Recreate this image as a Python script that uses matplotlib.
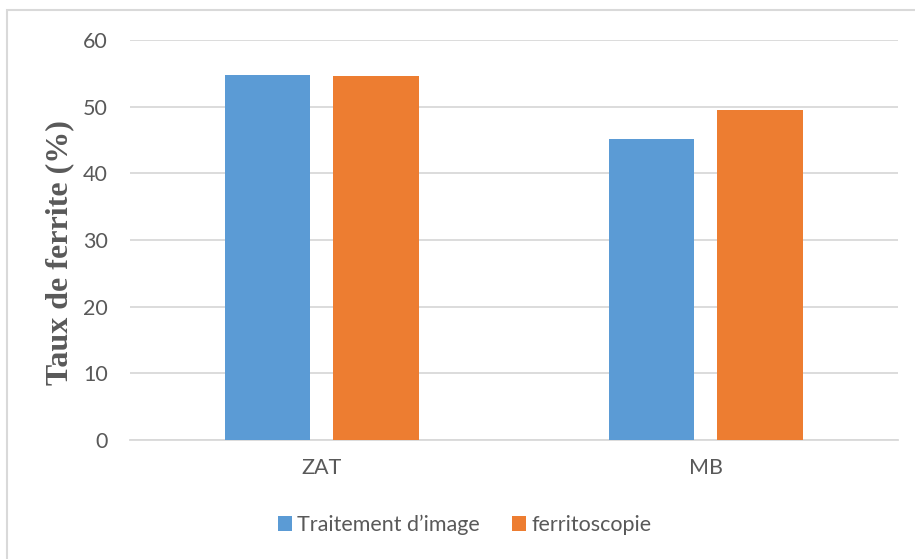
import numpy as np
import matplotlib
matplotlib.use("Agg")
import matplotlib.pyplot as plt
from matplotlib.patches import Rectangle

categories = ["ZAT", "MB"]
series_names = ["Traitement d\u2019image", "ferritoscopie"]
traitement = [54.75, 45.1]
ferritoscopie = [54.6, 49.55]
yticks = [0, 10, 20, 30, 40, 50, 60]

blue = "#5B9BD5"
orange = "#ED7D31"
grey_text = "#595959"

fig = plt.figure(figsize=(9.15, 5.59), dpi=100)
ax = fig.add_axes([0.142, 0.2129, 0.839, 0.7155])

x = np.arange(len(categories))
w = 0.223
off = 0.1416
ax.bar(x - off, traitement, w, color=blue, label=series_names[0], zorder=3)
ax.bar(x + off, ferritoscopie, w, color=orange, label=series_names[1], zorder=3)

ax.set_xlim(-0.5, 1.5)
ax.set_ylim(0, 60)
ax.set_yticks(yticks)
ax.set_xticks(x)
ax.set_xticklabels(categories)
ax.yaxis.grid(True, color="#d9d9d9", linewidth=1.3, zorder=0)
ax.set_axisbelow(True)
for s in ["top", "right", "left"]:
    ax.spines[s].set_visible(False)
ax.spines["bottom"].set_color("#d9d9d9")
ax.spines["bottom"].set_linewidth(1.3)
ax.tick_params(axis="both", length=0, labelsize=15.5, labelcolor=grey_text)
ax.tick_params(axis="x", pad=13)
ax.tick_params(axis="y", pad=16)
for lab in ax.get_xticklabels() + ax.get_yticklabels():
    lab.set_family("Lato")

ax.set_ylabel("Taux de ferrite (%)", family="Liberation Serif", fontweight="bold",
              fontsize=23, color=grey_text)
ax.yaxis.label.set_va("center")
ax.yaxis.set_label_coords(-0.091, 0.4675)

leg = fig.legend(loc="center", bbox_to_anchor=(0.508, 0.061), ncol=2, frameon=False,
                 handlelength=0.65, handleheight=0.65, handletextpad=0.25, columnspacing=1.5,
                 prop={"family": "Lato", "size": 15.5})
for t in leg.get_texts():
    t.set_color(grey_text)

# outer chart border (only top and left visible in the crop)
fig.patches.append(Rectangle((7 / 915, -0.1), 1.1, (559 - 10) / 559 + 0.1,
                             transform=fig.transFigure, fill=False,
                             edgecolor="#d9d9d9", linewidth=1.5))

fig.savefig("out.png", dpi=100)
